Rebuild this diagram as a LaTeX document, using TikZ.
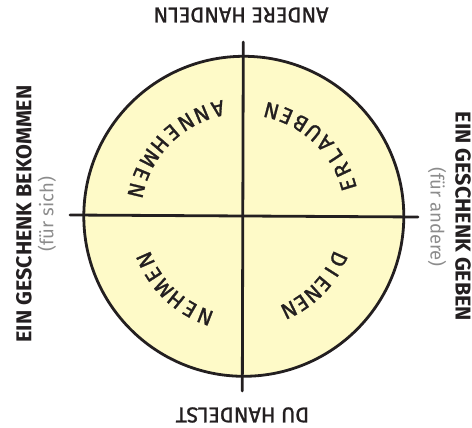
\documentclass[tikz,border=0pt]{standalone}
\usepackage{fontspec}
\setmainfont{Fira Sans}
\newfontfamily\bogenfont{Fira Sans}[FakeBold=1.2]
\definecolor{kreisgelb}{RGB}{254,250,200}
\definecolor{tinte}{RGB}{35,31,32}
\definecolor{hellgrau}{RGB}{140,140,140}
% Buchstaben entlang eines Bogens um (M): Name, Startwinkel, Schritt, Radius, Drehung, Buchstaben
\newcommand\bogenwort[6]{%
	\foreach \bst [count=\i from 0, evaluate=\i as \w using #2+\i*#3] in {#6}
		\node [bogen, rotate=\w+#5] (#1\i) at ($(M)+(\w:#4pt)$) {\bst};
}
\usetikzlibrary{calc}
\begin{document}
\begin{tikzpicture}[x=1pt, y=1pt,
		achse/.style = {line width=2.8pt, tinte, line cap=round},
		pol/.style = {font=\bogenfont\fontsize{21.5}{23}\selectfont, text=tinte, inner sep=0pt},
		seite/.style = {font=\fontsize{21.5}{23}\selectfont\bfseries, text=tinte, inner sep=0pt},
		klammer/.style = {font=\fontsize{18.5}{20}\selectfont, text=hellgrau, inner sep=0pt},
		bogen/.style = {font=\bogenfont\fontsize{22}{24}\selectfont, text=tinte, inner sep=0pt}]
		\useasboundingbox (0,0) rectangle (472,428);
		\coordinate (M) at (243.8,211.7);
		\coordinate (links) at (70,213);
		\coordinate (rechts) at (418,211);
		\coordinate (oben) at (243.3,386);
		\coordinate (unten) at (242.3,37);
		% Kreis und Achsen
		\draw [line width=2.8pt, tinte, fill=kreisgelb] (M) circle (160pt);
		\draw [achse] (links) -- (rechts);
		\draw [achse] (unten) -- (oben);
		% Beschriftung aussen
		\node [pol, rotate=180] (andere) at (241,413) {ANDERE HANDELN};
		\node [pol, rotate=180] (du) at (242.5,13) {DU HANDELST};
		\node [seite, rotate=90] (bekommen) at (24,214) {EIN GESCHENK BEKOMMEN};
		\node [klammer, rotate=90] (fuersich) at (47,214) {(für sich)};
		\node [seite, rotate=-90] (geben) at (463,211.5) {EIN GESCHENK GEBEN};
		\node [klammer, rotate=-90] (fuerandere) at (437,211) {(für andere)};
		% Quadranten
		\bogenwort{erl}{16.9}{8.34}{109}{90}{E,R,L,A,U,B,E,N}
		\bogenwort{ann}{103.5}{8.99}{110.5}{90}{A,N,N,E,H,M,E,N}
		\bogenwort{neh}{248.9}{-9}{107.5}{-90}{N,E,H,M,E,N}
		\bogenwort{die}{335.6}{-7.96}{104}{-90}{D,I,E,N,E,N}
\end{tikzpicture}
\end{document}
